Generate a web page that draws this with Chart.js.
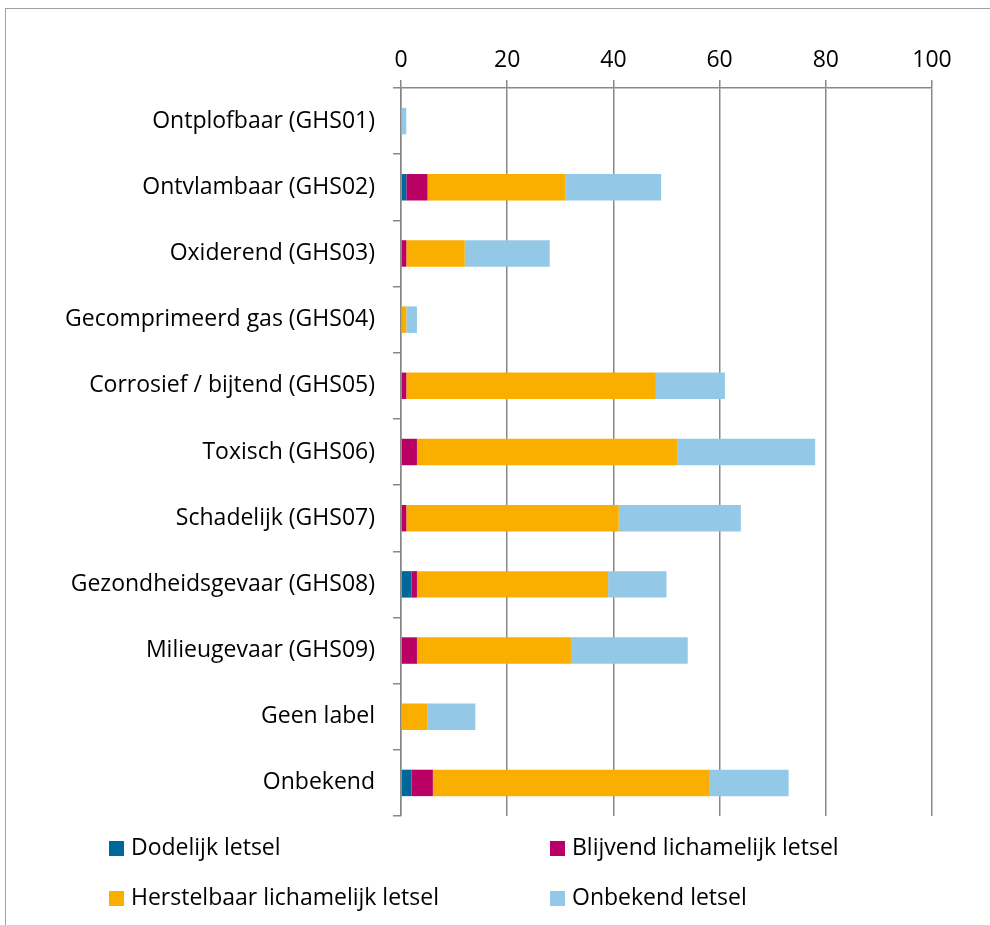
<!DOCTYPE html>
<html>
<head>
<meta charset="utf-8">
<script src="https://cdn.jsdelivr.net/npm/chart.js@4/dist/chart.umd.min.js"></script>
<style>
  body { margin: 0; background: #fff; overflow: hidden; }
  #wrap { position: relative; width: 990px; height: 925px; }
  #frame { position: absolute; left: 5px; top: 8px; width: 1100px; height: 1100px; border: 1px solid #a0a0a0; box-sizing: border-box; }
  #canvas { position: absolute; left: 0; top: 0; }
  .lg { position: absolute; font-family: "Open Sans", sans-serif; font-size: 23px; color: #000; line-height: 30px; white-space: nowrap; }
  .lg span { display: inline-block; width: 15px; height: 15px; margin-right: 7px; vertical-align: -1px; }
</style>
</head>
<body>
<div id="wrap">
  <div id="frame"></div>
  <canvas id="canvas" width="990" height="925"></canvas>
  <div id="legend"></div>
</div>
<script>
const categories = [
    "Ontplofbaar (GHS01)",
    "Ontvlambaar (GHS02)",
    "Oxiderend (GHS03)",
    "Gecomprimeerd gas (GHS04)",
    "Corrosief / bijtend (GHS05)",
    "Toxisch (GHS06)",
    "Schadelijk (GHS07)",
    "Gezondheidsgevaar (GHS08)",
    "Milieugevaar (GHS09)",
    "Geen label",
    "Onbekend"
];
const dodelijk    = [0, 1, 0, 0, 0, 0, 0, 2, 0, 0, 2];
const blijvend    = [0, 4, 1, 0, 1, 3, 1, 1, 3, 0, 4];
const herstelbaar = [0, 26, 11, 1, 47, 49, 40, 36, 29, 5, 52];
const onbekend    = [1, 18, 16, 2, 13, 26, 23, 11, 22, 9, 15];
const xTicks = [0, 20, 40, 60, 80, 100];

const seriesNames = ["Dodelijk letsel", "Blijvend lichamelijk letsel", "Herstelbaar lichamelijk letsel", "Onbekend letsel"];
const seriesColors = ["#00679b", "#ba0064", "#f9ae00", "#93c9e6"];

const gridGray = "#888888";
const font = { family: "Open Sans", size: 23 };

let ctx = document.getElementById("canvas").getContext("2d");
const chart = new Chart(ctx, {
    type: 'bar',
    data: {
        labels: categories,
        datasets: [dodelijk, blijvend, herstelbaar, onbekend].map(function (d, i) {
            return {
                label: seriesNames[i],
                data: d,
                backgroundColor: seriesColors[i],
                borderWidth: 0,
                barPercentage: 0.4,
                categoryPercentage: 1
            };
        })
    },
    options: {
        indexAxis: 'y',
        responsive: false,
        animation: false,
        layout: { padding: { top: 0, right: 58, bottom: 109, left: 0 } },
        plugins: {
            legend: { display: false },
            tooltip: { enabled: false }
        },
        scales: {
            x: {
                position: 'top',
                stacked: true,
                min: 0,
                max: 100,
                afterBuildTicks: function (s) { s.ticks = xTicks.map(v => ({ value: v })); },
                afterFit: function (s) { s.height = 88; },
                ticks: { color: '#000', font: font, padding: 6, maxRotation: 0 },
                grid: { color: gridGray, lineWidth: 1.5, tickLength: 8 },
                border: { color: gridGray, width: 1.5 }
            },
            y: {
                stacked: true,
                afterFit: function (s) { s.width = 401; },
                ticks: { color: '#000', font: font, padding: 18 },
                grid: { offset: true, drawOnChartArea: false, tickLength: 8, color: gridGray, lineWidth: 1.5 },
                border: { color: gridGray, width: 1.5 }
            }
        }
    }
});

// legend in two columns, like the original
const legendPos = [[109, 831], [550, 831], [109, 881], [550, 881]];
const legendBox = document.getElementById("legend");
chart.data.datasets.forEach(function (ds, i) {
    let el = document.createElement("div");
    el.className = "lg";
    el.style.left = legendPos[i][0] + "px";
    el.style.top = legendPos[i][1] + "px";
    el.innerHTML = '<span style="background:' + ds.backgroundColor + '"></span>' + ds.label;
    legendBox.appendChild(el);
});
</script>
</body>
</html>
